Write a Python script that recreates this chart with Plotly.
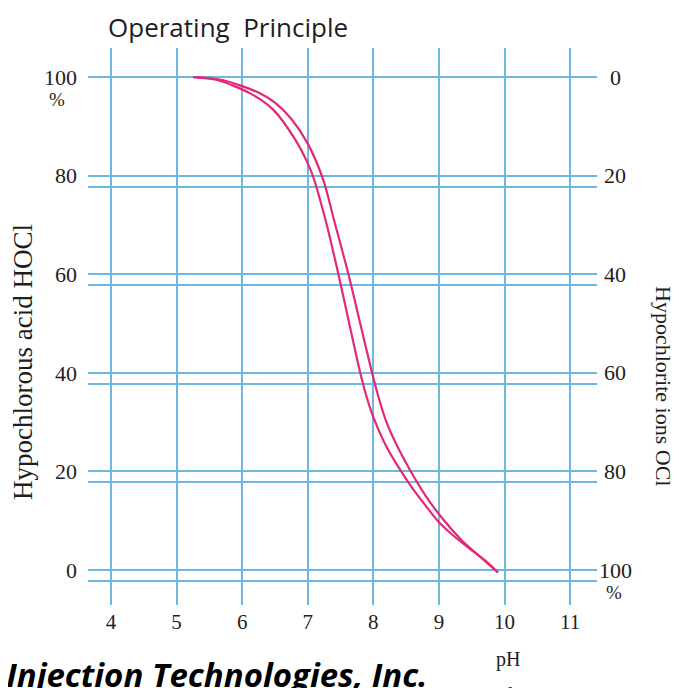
import plotly.graph_objects as go

# ---- data ----
ph_ticks = [4, 5, 6, 7, 8, 9, 10, 11]
left_ticks = [0, 20, 40, 60, 80, 100]
right_ticks = [0, 20, 40, 60, 80, 100]
second_lines = [-2.2, 17.8, 37.8, 57.8, 77.8]  # doubled grid lines below each major line

curve_a_ph = [5.25, 5.62, 6.12, 6.48, 6.8, 7.0, 7.09, 7.2, 7.3, 7.45, 7.6,
              7.8, 7.9, 8.0, 8.2, 8.4, 8.6, 8.8, 8.98, 9.2, 9.5, 9.7, 9.9]
curve_a_pct = [100, 99.4, 96.7, 93.3, 87.5, 82.5, 79.5, 74.5, 69.5, 61, 52,
               40, 35, 31, 25, 20.5, 16.5, 13, 10, 7.2, 4, 2, -0.5]

curve_b_ph = [5.3, 5.7, 6.24, 6.5, 6.75, 7.0, 7.24, 7.4, 7.62, 7.8, 7.98, 8.08,
              8.2, 8.35, 8.55, 8.8, 9.05, 9.35, 9.6, 9.9]
curve_b_pct = [100, 99.4, 96.9, 94.8, 91.5, 86.5, 79, 71, 60, 50, 40, 35,
               30, 25.5, 20.5, 15, 10.5, 6, 3, -0.5]

GRID = "#6EB7DF"
CURVE = "#E2287A"
SERIF = "Liberation Serif"
TXT = "#1e1e1e"
OFF = 8  # page body margin

fig = go.Figure()
for xs, ys in [(curve_a_ph, curve_a_pct), (curve_b_ph, curve_b_pct)]:
    fig.add_trace(go.Scatter(x=xs, y=ys, mode="lines",
                             line=dict(color=CURVE, width=2.2, shape="spline", smoothing=0.8),
                             showlegend=False, hoverinfo="skip"))
fig.add_trace(go.Scatter(x=[None], y=[None], yaxis="y2", showlegend=False))

W, H = 679 - OFF, 688 - OFF
ml, mt = 88 - OFF, 48 - OFF
mr = W - (597 - OFF)
mb = H - (605 - OFF)
pw, ph_ = W - ml - mr, H - mt - mb

def px_x(x):
    return (x - OFF - ml) / pw

def px_y(y):
    return 1 - (y - OFF - mt) / ph_

y_lo, y_hi = -7.1, 105.9

fig.update_layout(
    width=W, height=H,
    margin=dict(l=ml, r=mr, t=mt, b=mb),
    paper_bgcolor="white", plot_bgcolor="white",
    xaxis=dict(range=[3.649, 11.41], tickvals=ph_ticks, showgrid=True,
               gridcolor=GRID, gridwidth=2, zeroline=False, showline=False,
               ticks="", tickfont=dict(family=SERIF, size=21, color=TXT),
               ticklabelstandoff=2),
    yaxis=dict(range=[y_lo, y_hi], tickvals=left_ticks, showgrid=True,
               gridcolor=GRID, gridwidth=2, zeroline=False, showline=False,
               ticks="", tickfont=dict(family=SERIF, size=22, color=TXT),
               ticklabelstandoff=10,
               minor=dict(tickmode="array", tickvals=second_lines, showgrid=True,
                          gridcolor=GRID, gridwidth=2, ticks="")),
    yaxis2=dict(overlaying="y", side="right", range=[100 - y_lo, 100 - y_hi],
                showgrid=False, zeroline=False, showticklabels=False, ticks=""),
)

ann = []
for v in right_ticks:
    ann.append(dict(x=px_x(615), xref="paper", y=v, yref="y2", text=str(v),
                    showarrow=False, xanchor="center", yanchor="middle",
                    font=dict(family=SERIF, size=22, color=TXT)))
for (sx, sy) in [(57, 100), (614, 592)]:
    ann.append(dict(x=px_x(sx), y=px_y(sy), text="%", xref="paper", yref="paper",
                    showarrow=False, xanchor="center", yanchor="middle",
                    font=dict(family=SERIF, size=19, color=TXT)))
ann += [
    dict(x=px_x(106), y=px_y(27), xref="paper", yref="paper", text="Operating  Principle",
         showarrow=False, xanchor="left", yanchor="middle",
         font=dict(family="Open Sans", size=26, color=TXT)),
    dict(x=px_x(23), y=px_y(362), xref="paper", yref="paper", text="Hypochlorous acid HOCl",
         textangle=-90, showarrow=False, xanchor="center", yanchor="middle",
         font=dict(family=SERIF, size=27, color=TXT)),
    dict(x=px_x(664), y=px_y(386), xref="paper", yref="paper", text="Hypochlorite ions OCl",
         textangle=90, showarrow=False, xanchor="center", yanchor="middle",
         font=dict(family=SERIF, size=22, color=TXT)),
    dict(x=px_x(508), y=px_y(659), xref="paper", yref="paper", text="pH",
         showarrow=False, xanchor="center", yanchor="middle",
         font=dict(family=SERIF, size=20, color=TXT)),
    dict(x=px_x(510), y=px_y(694), xref="paper", yref="paper", text="value",
         showarrow=False, xanchor="center", yanchor="middle",
         font=dict(family=SERIF, size=20, color=TXT)),
    dict(x=px_x(430), y=px_y(674), xref="paper", yref="paper",
         text="d Injection Technologies, Inc.",
         showarrow=False, xanchor="right", yanchor="middle",
         font=dict(family="Open Sans", size=33, color="#000000", weight="bold", style="italic")),
]
fig.update_layout(annotations=ann)

fig.write_html("out.html")
